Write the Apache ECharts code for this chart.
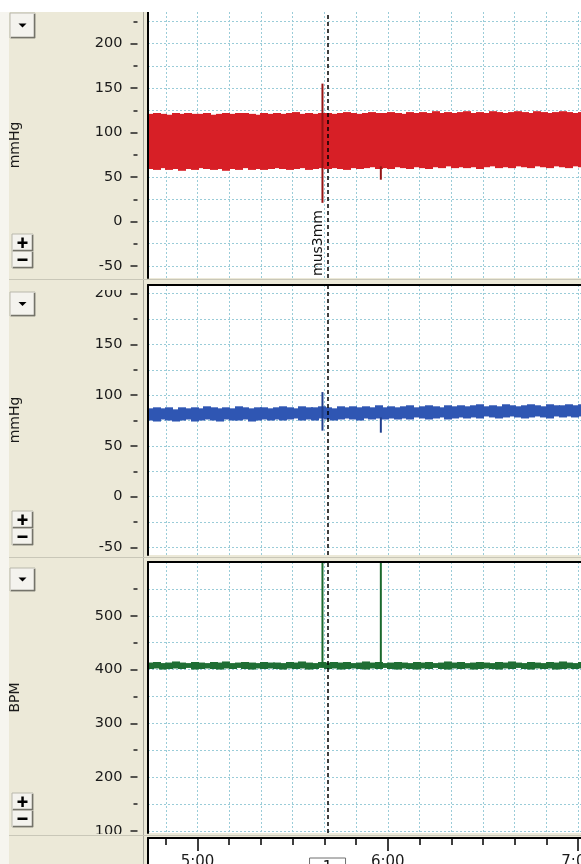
<!DOCTYPE html>
<html>
<head>
<meta charset="utf-8">
<script src="https://cdn.jsdelivr.net/npm/echarts@6/dist/echarts.min.js"></script>
<style>
html,body{margin:0;padding:0;background:#ECE9D8;overflow:hidden;}
#chart{width:581px;height:864px;}
</style>
</head>
<body>
<div id="chart"></div>
<script>
// time axis, minutes since midnight
var timeMin = 284.4, timeMax = 420.9;
var cursorTime = 341;
var minuteTicks = [290,300,310,320,330,340,350,360,370,380,390,400,410,420];
var hourTicks = [300,360,420];

var sampleTimes = [285,287,289,291,293,295,297,299,301,303,305,307,309,311,313,315,317,319,321,323,
  325,327,329,331,333,335,337,339,341,343,345,347,349,351,353,355,357,359,361,363,
  365,367,369,371,373,375,377,379,381,383,385,387,389,391,393,395,397,399,401,403,
  405,407,409,411,413,415,417,419,421];

// top channel (mmHg)
var redHigh = [121,122,121,120,122,121,122,121,121,122,120,121,122,121,122,122,121,120,122,121,
  122,121,122,123,121,122,121,122,122,121,122,123,122,121,122,123,122,122,123,122,
  121,123,122,123,122,124,122,123,122,123,124,122,123,122,124,123,122,123,124,123,
  122,124,123,122,123,124,123,122,123];
var redLow = [59,58,60,58,59,57,59,58,60,59,58,59,57,59,58,60,58,59,58,59,
  60,59,58,59,60,58,59,60,59,60,59,58,60,59,60,61,59,60,59,61,
  60,59,61,60,59,61,60,62,60,61,60,61,59,61,62,60,61,60,62,61,
  60,62,61,60,62,61,60,62,61];
var redSpikeTimes = [339.4, 357.8];
var redSpikeLow = [21, 47];
var redSpikeHigh = [155, 62];

// middle channel (mmHg)
var blueHigh = [87,88,87,88,86,88,87,88,87,89,88,87,88,87,89,88,87,88,88,87,
  88,89,88,87,89,88,88,89,88,87,89,88,89,88,89,88,90,88,89,88,
  89,90,88,89,90,89,88,90,89,90,89,90,91,89,90,89,91,90,89,90,
  91,90,89,91,90,90,91,90,91];
var blueLow = [75,74,76,75,74,75,76,74,75,76,75,74,76,75,75,76,74,75,76,75,
  76,75,76,77,75,76,75,77,76,75,76,77,76,75,77,76,77,76,77,76,
  77,76,78,77,76,77,78,76,77,78,77,78,77,79,78,77,78,79,78,77,
  78,79,78,77,79,78,79,78,79];
var blueSpikeTimes = [339.4, 357.8];
var blueSpikeLow = [65, 63];
var blueSpikeHigh = [103, 78];

// bottom channel (BPM)
var greenHigh = [413,414,412,413,415,413,412,414,413,412,414,413,415,412,413,414,413,412,414,413,
  413,412,414,413,415,413,412,414,413,414,413,414,412,413,415,413,414,412,413,414,
  413,412,414,413,414,412,413,415,413,414,412,413,414,413,412,414,413,415,413,412,
  414,413,412,414,413,415,413,412,414];
var greenLow = [401,402,400,401,402,401,403,400,401,402,401,400,402,401,403,401,400,402,401,402,
  401,400,402,401,402,400,401,403,401,402,400,401,402,401,400,402,401,403,401,400,
  402,401,400,402,401,403,401,400,402,401,402,400,401,402,401,400,402,401,403,401,
  400,402,401,402,400,401,402,401,402];
var greenSpikeTimes = [339.4, 357.8];
var greenSpikeLow = [405, 405];
var greenSpikeHigh = [600, 600];

// y ticks
var p1Labels = [-50,0,50,100,150,200];
var p1Grid = [-50,-25,0,25,50,75,100,125,150,175,200,225];
var p2Labels = [-50,0,50,100,150,200];
var p2Grid = [-50,-25,0,25,50,75,100,125,150,175,200];
var p3Labels = [100,200,300,400,500];
var p3Grid = [100,150,200,250,300,350,400,450,500,550];

var font = 'DejaVu Sans';
var gridColor = '#9accd8';

var panels = [
  {name:'mmHg', top:12, height:266, min:-63.5, max:235.5, labels:p1Labels, grid:p1Grid,
   hi:redHigh, lo:redLow, sT:redSpikeTimes, sLo:redSpikeLow, sHi:redSpikeHigh, color:'#d71f26', spike:'#951515', tag:'mus3mm'},
  {name:'mmHg', top:285, height:270, min:-57.5, max:208.5, labels:p2Labels, grid:p2Grid,
   hi:blueHigh, lo:blueLow, sT:blueSpikeTimes, sLo:blueSpikeLow, sHi:blueSpikeHigh, color:'#2f56b3', spike:'#21408e'},
  {name:'BPM', top:562, height:271, min:96, max:600, labels:p3Labels, grid:p3Grid,
   hi:greenHigh, lo:greenLow, sT:greenSpikeTimes, sLo:greenSpikeLow, sHi:greenSpikeHigh, color:'#1f6e34', spike:'#1b6a2e'}
];

function fmtTime(v){
  var h = Math.floor(v / 60), m = Math.round(v % 60);
  return h + ':' + (m < 10 ? '0' + m : m);
}

function bandItem(color){
  return function(params, api){
    var a = api.coord([api.value(0) - 1, api.value(2)]);
    var b = api.coord([api.value(0) + 1, api.value(1)]);
    return {type:'rect', shape:{x:Math.floor(a[0]), y:a[1], width:Math.ceil(b[0] - a[0]) + 1, height:b[1] - a[1]},
      style:{fill:color}};
  };
}
function spikeItem(color){
  return function(params, api){
    var a = api.coord([api.value(0), api.value(2)]);
    var b = api.coord([api.value(0), api.value(1)]);
    return {type:'line', shape:{x1:a[0], y1:a[1], x2:b[0], y2:b[1]}, style:{stroke:color, lineWidth:2}};
  };
}

var grids = [], xAxes = [], yAxes = [], series = [];

panels.forEach(function(p, i){
  grids.push({left:148, right:0, top:p.top, height:p.height, show:true, backgroundColor:'#fff', borderWidth:0,
    outerBoundsMode:'none'});
  // vertical grid lines (below the signal)
  xAxes.push({type:'value', gridIndex:i, min:timeMin, max:timeMax, position:'top',
    axisLine:{show:false, onZero:false},
    axisTick:{show:false, customValues:minuteTicks},
    axisLabel:{show:false},
    splitLine:{show:true, lineStyle:{color:gridColor, type:[2,2], width:1}}});
  // top border
  xAxes.push({type:'value', gridIndex:i, min:timeMin, max:timeMax, position:'top', z:5,
    axisLine:{show:i > 0, onZero:false, lineStyle:{color:'#000', width:2}},
    axisTick:{show:false}, axisLabel:{show:false}, splitLine:{show:false}});
  // labelled axis with major ticks
  yAxes.push({type:'value', gridIndex:i, min:p.min, max:p.max, position:'left', offset:10.5,
    name:p.name, nameLocation:'middle', nameGap:115,
    nameTextStyle:{color:'#1a1a1a', fontSize:14, fontFamily:font},
    axisLine:{show:false, onZero:false},
    axisTick:{show:true, length:7, customValues:p.labels, lineStyle:{color:'#222', width:1.5}},
    axisLabel:{customValues:p.labels, margin:15, color:'#1a1a1a', fontSize:14.5, fontFamily:font},
    splitLine:{show:false}});
  // minor ticks + horizontal grid
  yAxes.push({type:'value', gridIndex:i, min:p.min, max:p.max, position:'left', offset:10.5,
    axisLine:{show:false, onZero:false},
    axisTick:{show:true, length:4, customValues:p.grid, lineStyle:{color:'#222', width:1.5}},
    axisLabel:{show:false},
    splitLine:{show:true, lineStyle:{color:gridColor, type:[2,2], width:1}}});
  // plot left border
  yAxes.push({type:'value', gridIndex:i, min:p.min, max:p.max, position:'left', z:5,
    axisLine:{show:true, onZero:false, lineStyle:{color:'#000', width:2}},
    axisTick:{show:false}, axisLabel:{show:false}, splitLine:{show:false}});

  var band = sampleTimes.map(function(t, k){ return [t, p.lo[k], p.hi[k]]; });
  var spikes = p.sT.map(function(t, k){ return [t, p.sLo[k], p.sHi[k]]; });
  var mlLabel = p.tag ? {show:true, formatter:p.tag, position:'insideStartTop', distance:2,
      color:'#111', fontSize:14, fontFamily:font} : {show:false};
  series.push({type:'custom', xAxisIndex:2 * i, yAxisIndex:3 * i, clip:true, silent:true, z:2,
    renderItem:bandItem(p.color), data:band,
    markLine:{silent:true, symbol:'none', animation:false,
      lineStyle:{color:'#000', type:[4,3], width:1.5}, label:mlLabel, data:[{xAxis:cursorTime}]}});
  series.push({type:'custom', xAxisIndex:2 * i, yAxisIndex:3 * i, clip:true, silent:true, z:3,
    renderItem:spikeItem(p.spike), data:spikes});
});

// time strip
grids.push({left:148, right:0, top:838, height:40, show:true, backgroundColor:'#fff', borderWidth:0,
  outerBoundsMode:'none'});
xAxes.push({type:'value', gridIndex:3, min:timeMin, max:timeMax, position:'top', z:5,
  axisLine:{show:true, onZero:false, lineStyle:{color:'#000', width:2}},
  axisTick:{show:true, inside:true, length:7, customValues:minuteTicks, lineStyle:{color:'#000', width:1.5}},
  axisLabel:{show:false}, splitLine:{show:false}});
xAxes.push({type:'value', gridIndex:3, min:timeMin, max:timeMax, position:'top', z:5,
  axisLine:{show:false, onZero:false},
  axisTick:{show:true, inside:true, length:13, customValues:hourTicks, lineStyle:{color:'#000', width:1.5}},
  axisLabel:{show:true, inside:true, margin:17, customValues:hourTicks, formatter:fmtTime,
    color:'#1a1a1a', fontSize:15, fontFamily:font, hideOverlap:false},
  splitLine:{show:false}});
yAxes.push({type:'value', gridIndex:3, min:0, max:1, position:'left', z:5,
  axisLine:{show:true, onZero:false, lineStyle:{color:'#000', width:2}},
  axisTick:{show:false}, axisLabel:{show:false}, splitLine:{show:false}});

var chart = echarts.init(document.getElementById('chart'));
chart.setOption({
  animation:false,
  backgroundColor:'#ECE9D8',
  textStyle:{fontFamily:font},
  grid:grids, xAxis:xAxes, yAxis:yAxes, series:series
});

function button(x, y, w, h, kind){
  var kids = [
    {type:'rect', z:101, shape:{x:0, y:0, width:w, height:h}, style:{fill:'#f4f3ee', stroke:'#b9b8ac', lineWidth:1}},
    {type:'polyline', z:102, shape:{points:[[1, h - 0.5], [w - 0.5, h - 0.5], [w - 0.5, 1]]}, style:{stroke:'#74736a', lineWidth:1.5, fill:null}}
  ];
  if (kind === 'down') {
    kids.push({type:'polygon', z:103, shape:{points:[[w / 2 - 4, h / 2 - 2], [w / 2 + 4, h / 2 - 2], [w / 2, h / 2 + 2]]}, style:{fill:'#000'}});
  } else {
    kids.push({type:'rect', z:103, shape:{x:w / 2 - 5, y:h / 2 - 1, width:10, height:2.5}, style:{fill:'#000'}});
    if (kind === 'plus') kids.push({type:'rect', z:103, shape:{x:w / 2 - 1.2, y:h / 2 - 5, width:2.5, height:10.5}, style:{fill:'#000'}});
  }
  return {type:'group', x:x, y:y, z:100, children:kids};
}

var cx = chart.convertToPixel({xAxisIndex:6}, cursorTime);
chart.setOption({graphic:[
  {type:'rect', z:99, shape:{x:0, y:0, width:581, height:12}, style:{fill:'#ffffff'}},
  {type:'rect', z:99, shape:{x:0, y:12, width:9, height:852}, style:{fill:'#f6f5ef'}},
  {type:'rect', z:99, shape:{x:9, y:278, width:135, height:12}, style:{fill:'#ECE9D8'}},
  {type:'rect', z:99, shape:{x:9, y:834, width:135, height:30}, style:{fill:'#ECE9D8'}},
  {type:'line', z:99, shape:{x1:143.5, y1:12, x2:143.5, y2:864}, style:{stroke:'#a9a89c', lineWidth:1}},
  {type:'line', z:99, shape:{x1:9, y1:279.5, x2:581, y2:279.5}, style:{stroke:'#c9c7b8', lineWidth:1}},
  {type:'line', z:99, shape:{x1:9, y1:557.5, x2:581, y2:557.5}, style:{stroke:'#c9c7b8', lineWidth:1}},
  {type:'line', z:99, shape:{x1:9, y1:835.5, x2:581, y2:835.5}, style:{stroke:'#c9c7b8', lineWidth:1}},
  button(10, 13, 25, 25, 'down'), button(12, 234, 21, 17, 'plus'), button(12, 251, 21, 17, 'minus'),
  button(10, 292, 25, 24, 'down'), button(12, 511, 21, 17, 'plus'), button(12, 528, 21, 17, 'minus'),
  button(10, 568, 25, 23, 'down'), button(12, 793, 21, 17, 'plus'), button(12, 810, 21, 17, 'minus'),
  {type:'rect', z:100, shape:{x:cx - 18, y:858, width:36, height:20}, style:{fill:'#fff', stroke:'#6f6f6f', lineWidth:1}},
  {type:'text', z:101, x:cx, y:868, style:{text:'1', fill:'#111', font:'15px DejaVu Sans', textAlign:'center', textVerticalAlign:'middle'}}
]});
</script>
</body>
</html>
